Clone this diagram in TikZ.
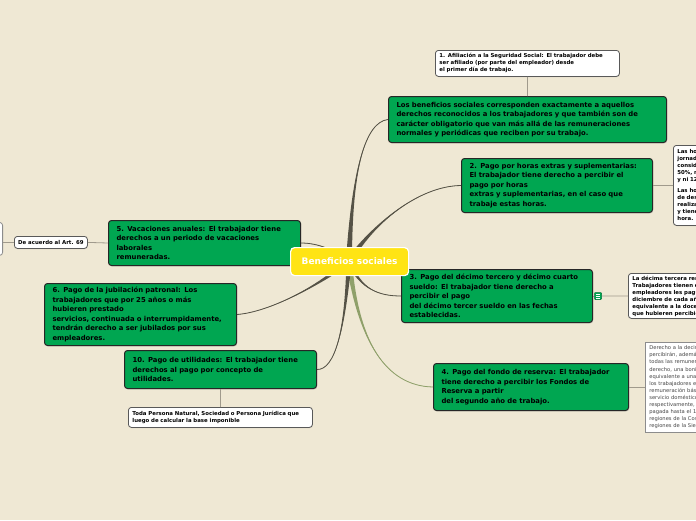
\documentclass[tikz,border=0pt]{standalone}
\usepackage{fontspec}
\setmainfont{DejaVu Sans}
\usetikzlibrary{calc,shadows}
\definecolor{bg}{RGB}{239,232,212}
\definecolor{gboxc}{RGB}{0,166,81}
\definecolor{ylw}{RGB}{255,228,20}
\definecolor{conn}{RGB}{85,82,70}
\definecolor{olive}{RGB}{143,160,106}
\definecolor{thinc}{RGB}{160,154,140}
\definecolor{graytxt}{RGB}{70,70,70}
\newcommand\taperc[5]{%
  \fill[#1] ($(c)+#2$) .. controls #3 and #4 .. (#5) .. controls #4 and #3 .. ($(c)-#2$) -- cycle;
  \draw[#1, line width=0.8pt] (c) .. controls #3 and #4 .. (#5);}
\begin{document}
\begin{tikzpicture}[x=1pt,y=-1pt,
  gb/.style={anchor=north west, fill=gboxc, draw=black!85, line width=1pt, rounded corners=3pt,
    align=left, inner xsep=8pt, inner ysep=2pt,
    font=\fontsize{6.85}{9.5}\selectfont\bfseries,
    drop shadow={shadow xshift=0.7pt,shadow yshift=-0.9pt,opacity=0.35}},
  wb/.style={anchor=north west, fill=white, draw=black!65, line width=0.8pt, rounded corners=3pt,
    align=left, inner xsep=4pt, inner ysep=1pt,
    font=\fontsize{5.4}{7}\selectfont\bfseries,
    drop shadow={shadow xshift=0.5pt,shadow yshift=-0.7pt,opacity=0.3}},
  thinl/.style={draw=thinc, line width=0.8pt}]
\useasboundingbox (0,0) rectangle (696,520);
\fill[bg] (0,0) rectangle (696,520);
\clip (0,0) rectangle (696,520);

\coordinate (c) at (349,261);

% nodes
\node[gb, text width=262pt, minimum height=46pt] (top) at (388,96) {Los beneficios sociales corresponden exactamente a aquellos\\derechos reconocidos a los trabajadores y que también son de\\carácter obligatorio que van más allá de las remuneraciones\\normales y periódicas que reciben por su trabajo.};
\node[wb, text width=176pt, minimum height=26pt] (w1) at (435,50) {1. Afiliación a la Seguridad Social: El trabajador debe\\ser afiliado (por parte del empleador) desde\\el primer día de trabajo.};
\node[gb, text width=175pt, minimum height=54pt] (b2) at (461,158) {2. Pago por horas extras y suplementarias:\\El trabajador tiene derecho a percibir el\\pago por horas\\extras y suplementarias, en el caso que\\trabaje estas horas.};
\node[wb, text width=170pt, minimum height=80pt] (r2) at (673,145) {Las horas suplementarias exceden la\\jornada máxima de 8 horas diarias, se\\consideran con un recargo del\\50\%, no podrán exceder de 4 en un día\\y ni 12 en la semana.\\[4pt]Las horas extraordinarias se cumplen en días\\de descanso obligatorio y son\\realizadas por el trabajador en esos días\\y tienen un recargo del 100\% por cada\\hora.};
\node[gb, text width=175pt, minimum height=53pt] (b3) at (401,269) {3. Pago del décimo tercero y décimo cuarto\\sueldo: El trabajador tiene derecho a\\percibir el pago\\del décimo tercer sueldo en las fechas\\establecidas.};
\node[wb, text width=190pt, minimum height=45pt] (r3) at (628,273) {La décima tercera remuneración: Los\\Trabajadores tienen derecho a que sus\\empleadores les paguen, hasta el 24 de\\diciembre de cada año, una remuneración\\equivalente a la doceava parte de las remuneraciones\\que hubieren percibido durante el año calendario.};
\node[gb, text width=179pt, minimum height=47pt] (b4) at (433,363) {4. Pago del fondo de reserva: El trabajador\\tiene derecho a percibir los Fondos de\\Reserva a partir\\del segundo año de trabajo.};
\node[anchor=north west, fill=white, draw=black!45, line width=0.6pt, align=left, inner xsep=4pt,
  text=graytxt, font=\fontsize{5.2}{7.1}\selectfont, text width=200pt, minimum height=86pt,
  drop shadow={shadow xshift=0.5pt,shadow yshift=-0.7pt,opacity=0.3}] (r4) at (645,342)
  {Derecho a la decimocuarta remuneración: Los trabajadores\\percibirán, además, sin perjuicio de\\todas las remuneraciones a las que actualmente tienen\\derecho, una bonificación anual\\equivalente a una remuneración básica mínima unificada para\\los trabajadores en general y una\\remuneración básica mínima unificada para los trabajadores del\\servicio doméstico,\\respectivamente,\\pagada hasta el 15 de marzo en las\\regiones de la Costa e Insular, y hasta el 15 de agosto en las\\regiones de la Sierra y Oriental.};
\node[gb, text width=176pt, minimum height=45pt] (b5) at (108,220) {5. Vacaciones anuales: El trabajador tiene\\derechos a un periodo de vacaciones\\laborales\\remuneradas.};
\node[wb, minimum width=73pt, minimum height=12pt, inner xsep=2pt, inner ysep=0pt, align=center] (wart) at (14,236) {De acuerdo al Art. 69};
\node[anchor=north east, fill=white, draw=black!45, line width=0.8pt, rounded corners=3pt,
  minimum width=60pt, minimum height=33pt] (lbox) at (3,222) {};
\node[gb, text width=176pt, minimum height=62pt] (b6) at (44,283) {6. Pago de la jubilación patronal: Los\\trabajadores que por 25 años o más\\hubieren prestado\\servicios, continuada o interrumpidamente,\\tendrán derecho a ser jubilados por sus\\empleadores.};
\node[gb, text width=176pt, minimum height=38pt] (b10) at (124,350) {10. Pago de utilidades: El trabajador tiene\\derechos al pago por concepto de\\utilidades.};
\node[wb, text width=176pt, minimum height=20pt, inner ysep=0pt] (wbot) at (128,407) {Toda Persona Natural, Sociedad o Persona Jurídica que\\luego de calcular la base imponible};
\node[fill=gboxc, draw=gboxc!70!black, line width=0.5pt, minimum size=7pt, inner sep=0pt, rounded corners=0.8pt] (ico) at (598,296) {};
\foreach \yy in {-1.8,0,1.8} \draw[white, line width=0.6pt] ($(ico)+(-2,\yy)$) -- ++(4,0);

% thin connectors
\draw[thinl] (w1.south) -- (top.north);
\draw[thinl] (b2.east) -- (r2.west);
\draw[thinl] (b3.east) -- (ico.west);
\draw[thinl] (ico.east) -- (r3.west);
\draw[thinl] (b4.east) -- (b4.east -| r4.west);
\draw[thinl] (b5.west) -- (wart.east);
\draw[thinl] (wart.west) -- (wart.west -| lbox.east);
\draw[thinl] (b10.south) -- (wbot.north);

% tapered connectors from centre
\taperc{conn}{(3,0)}{(352,170)}{(365,122)}{top.west}
\taperc{conn}{(2.2,2.2)}{(372,225)}{(418,186)}{b2.west}
\taperc{conn}{(1.8,-2)}{(360,290)}{(380,296)}{b3.west}
\taperc{olive}{(3,0)}{(358,340)}{(385,386)}{b4.west}
\taperc{conn}{(0,1.4)}{(335,250)}{(318,243)}{b5.east}
\taperc{conn}{(2.2,2.2)}{(320,285)}{(270,312)}{b6.east}
\taperc{conn}{(2.6,0)}{(345,330)}{(335,370)}{b10.east}

% centre
\node[anchor=north west, fill=ylw, draw=white, line width=1.2pt, rounded corners=4pt,
  minimum width=118pt, minimum height=28pt, text=white, font=\fontsize{9}{11}\selectfont\bfseries] (ctr) at (290,247) {Beneficios sociales};
\end{tikzpicture}
\end{document}
